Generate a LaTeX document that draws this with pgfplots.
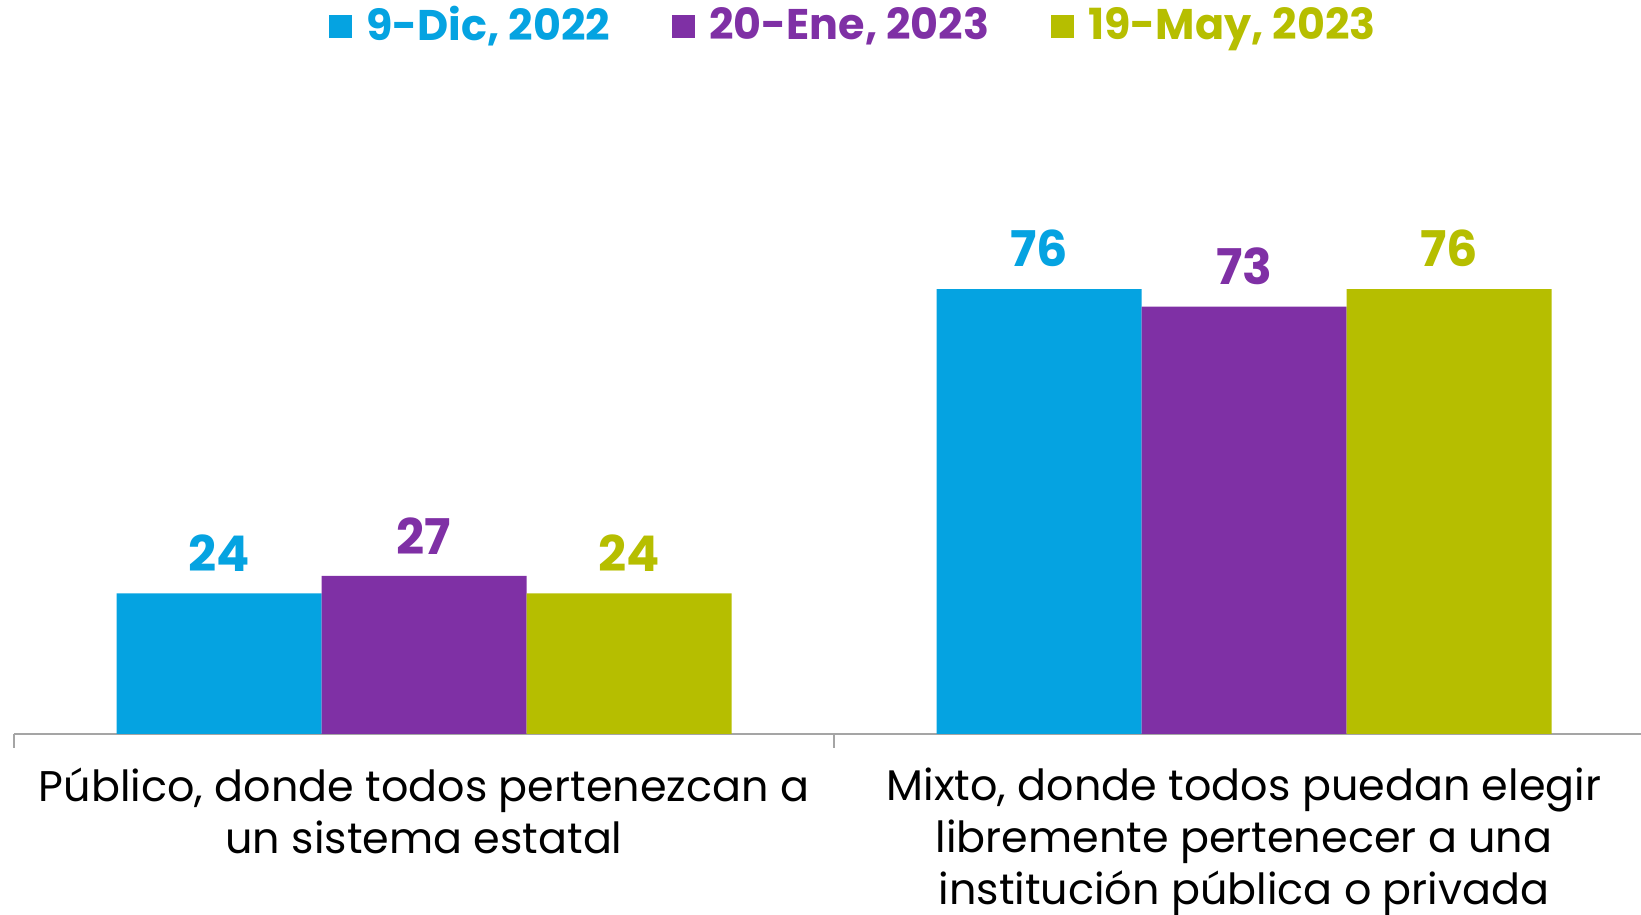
\documentclass[border=0pt]{standalone}
\usepackage{fontspec}
\setmainfont{Poppins}
\usepackage{pgfplots}
\pgfplotsset{compat=1.18}
\definecolor{cBlue}{RGB}{5,163,225}
\definecolor{cPurple}{RGB}{127,48,165}
\definecolor{cOlive}{RGB}{182,190,0}
\definecolor{axisgray}{RGB}{165,165,165}

\begin{document}
\begin{tikzpicture}
\begin{axis}[
    scale only axis,
    width=16.27cm, height=5.855cm,
    xmin=-0.5, xmax=1.484,
    ymin=0, ymax=100,
    ybar=0pt, bar width=0.25,
    axis y line=none,
    axis x line*=bottom,
    x axis line style={draw=axisgray, line width=0.8pt, -},
    xtick={0,1},
    xticklabels={{Público, donde todos pertenezcan a\\un sistema estatal},
                 {Mixto, donde todos puedan elegir\\libremente pertenecer a una\\institución pública o privada}},
    xticklabel style={align=center, font=\fontsize{12.2}{14.8}\selectfont, yshift=-6pt},
    major tick length=0pt,
    extra x ticks={-0.5,0.5},
    extra x tick labels={},
    extra x tick style={major tick length=0.14cm, tick align=outside,
        tick style={draw=axisgray, line width=0.8pt}},
    /pgf/number format/assume math mode=true,
    nodes near coords,
    nodes near coords style={font=\fontsize{14}{16}\selectfont\bfseries, yshift=2.7pt},
    legend columns=3,
    legend style={draw=none, fill=none, at={(0.5175,1.209)}, anchor=center,
        font=\fontsize{12.2}{15}\selectfont\bfseries,
        /tikz/every even column/.append style={column sep=0.55cm}},
    legend image code/.code={\fill[#1] (0cm,-0.12cm) rectangle (0.23cm,0.11cm);},
    clip=false,
]
\addplot[fill=cBlue, draw=none, nodes near coords style={text=cBlue}] coordinates {(0,24) (1,76)};
\addlegendentry{\hspace{2pt}\textcolor{cBlue}{9-Dic, 2022}}
\addplot[fill=cPurple, draw=none, nodes near coords style={text=cPurple}] coordinates {(0,27) (1,73)};
\addlegendentry{\hspace{2pt}\textcolor{cPurple}{20-Ene, 2023}}
\addplot[fill=cOlive, draw=none, nodes near coords style={text=cOlive}] coordinates {(0,24) (1,76)};
\addlegendentry{\hspace{2pt}\textcolor{cOlive}{19-May, 2023}}
\end{axis}
\pgfresetboundingbox
\path (-0.14cm,-1.81cm) rectangle (16.27cm,7.34cm);
\end{tikzpicture}
\end{document}
